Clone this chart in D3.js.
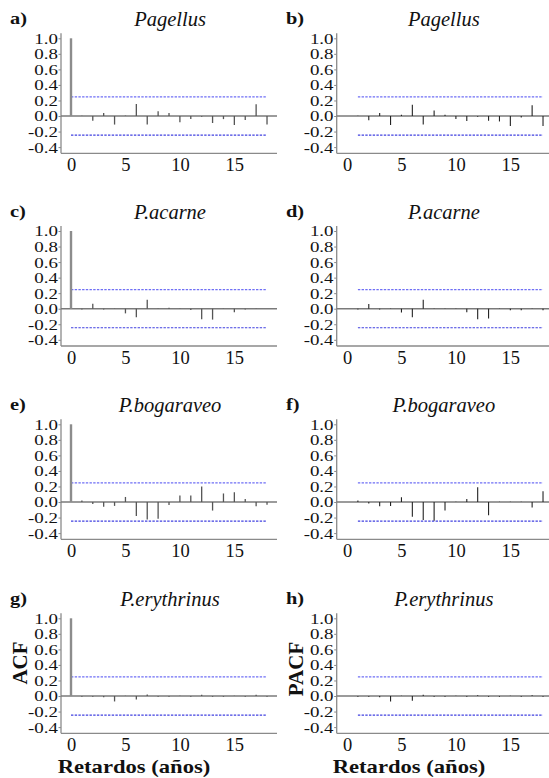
<!DOCTYPE html>
<html>
<head>
<meta charset="utf-8">
<script src="https://cdn.jsdelivr.net/npm/d3@7"></script>
<style>
  html, body { margin: 0; padding: 0; background: #fff; }
  svg { display: block; }
  svg text { font-family: "Liberation Serif", Tinos, "Times New Roman", "DejaVu Serif", serif; }
</style>
</head>
<body>
<svg id="chart" width="549" height="778"></svg>
<script>
// ---------- data ----------
const lagsAcf  = [0, 1, 2, 3, 4, 5, 6, 7, 8, 9, 10, 11, 12, 13, 14, 15, 16, 17, 18];
const lagsPacf = [1, 2, 3, 4, 5, 6, 7, 8, 9, 10, 11, 12, 13, 14, 15, 16, 17, 18];
const species = ["Pagellus", "P.acarne", "P.bogaraveo", "P.erythrinus"];
const panelLetters = ["a)", "b)", "c)", "d)", "e)", "f)", "g)", "h)"];
const yTickValues = [-0.4, -0.2, 0.0, 0.2, 0.4, 0.6, 0.8, 1.0];
const xTickValues = [0, 5, 10, 15];
const ciBound = 0.245;

const acfPagellus   = [1.0, 0.005, -0.06, 0.04, -0.11, 0.005, 0.155, -0.11, 0.06, 0.04, -0.08, -0.04, -0.01, -0.09, -0.04, -0.115, -0.05, 0.15, -0.11];
const pacfPagellus  = [0.005, -0.055, 0.04, -0.115, 0.015, 0.145, -0.11, 0.07, 0.015, -0.04, -0.065, -0.01, -0.06, -0.07, -0.13, -0.02, 0.14, -0.13];
const acfAcarne     = [1.0, -0.01, 0.065, -0.01, 0.003, -0.06, -0.11, 0.115, 0.003, 0.013, -0.005, -0.015, -0.135, -0.14, 0.003, -0.045, -0.01, 0.003, 0.0];
const pacfAcarne    = [-0.01, 0.06, -0.01, 0.003, -0.05, -0.11, 0.115, 0.003, 0.003, -0.005, -0.045, -0.135, -0.125, 0.003, -0.02, -0.02, 0.003, -0.02];
const acfBogaraveo  = [1.0, 0.02, -0.025, -0.06, -0.05, 0.065, -0.18, -0.225, -0.215, -0.04, 0.085, 0.085, 0.2, -0.11, 0.11, 0.125, 0.04, -0.055, -0.035];
const pacfBogaraveo = [0.02, -0.02, -0.055, -0.05, 0.06, -0.19, -0.23, -0.24, -0.11, 0.003, 0.04, 0.19, -0.17, 0.003, 0.003, 0.003, -0.07, 0.14];
const acfErythrinus = [1.0, -0.01, -0.01, -0.015, -0.07, 0.003, -0.045, 0.02, -0.01, -0.01, 0.003, -0.01, 0.015, -0.01, -0.01, 0.003, -0.01, 0.015, -0.01];
const pacfErythrinus= [-0.01, -0.01, -0.015, -0.07, 0.003, -0.06, 0.015, -0.01, -0.01, 0.003, -0.01, 0.01, -0.01, -0.01, 0.003, -0.01, 0.01, -0.01];

const acfSeries  = [acfPagellus, acfAcarne, acfBogaraveo, acfErythrinus];
const pacfSeries = [pacfPagellus, pacfAcarne, pacfBogaraveo, pacfErythrinus];

// ---------- layout ----------
const rowTop = [38.3, 231, 424.3, 618.3];     // pixel y of 1.0 in each row
const colAxisX = [61, 336.7];                  // y-axis line x
const colLag0X = [71, 347];                    // pixel x of lag 0
const colRightX = [277, 549];                  // right end of lines
const lagUnit = 10.89;
const yPix = 108.8;                            // span of -0.4..1.0

const serif = "Liberation Serif, Tinos, Times New Roman, DejaVu Serif, serif";
const svg = d3.select("#chart");

function drawPanel(row, col) {
  const isAcf = col === 0;
  const top = rowTop[row];
  const axX = colAxisX[col];
  const x = d3.scaleLinear().domain([0, 18]).range([colLag0X[col], colLag0X[col] + 18 * lagUnit]);
  const y = d3.scaleLinear().domain([-0.4, 1.0]).range([top + yPix, top]);
  const g = svg.append("g");
  const bottom = top + 115;

  // frame lines
  g.append("line").attr("x1", axX).attr("x2", axX).attr("y1", top - 5).attr("y2", bottom)
    .attr("stroke", "#8a8a8a").attr("stroke-width", 1.3);
  g.append("line").attr("x1", axX).attr("x2", colRightX[col]).attr("y1", bottom).attr("y2", bottom)
    .attr("stroke", "#8a8a8a").attr("stroke-width", 1.3);

  // y axis
  const ya = g.append("g").attr("transform", `translate(${axX},0)`)
    .call(d3.axisLeft(y).tickValues(yTickValues).tickSize(2.5).tickPadding(1)
      .tickFormat(d => d.toFixed(1)));
  ya.attr("font-family", null);
  ya.select(".domain").remove();
  ya.selectAll("line").attr("stroke", "#8a8a8a");
  ya.selectAll("text").style("font-family", serif).attr("font-size", 15.5).attr("fill", "#111")
    .attr("x", -2.6).attr("transform", "scale(1.22,1)");

  // x axis
  const xa = g.append("g").attr("transform", `translate(0,${bottom})`)
    .call(d3.axisBottom(x).tickValues(xTickValues).tickSize(0).tickPadding(5));
  xa.attr("font-family", null);
  xa.select(".domain").remove();
  xa.selectAll("text").style("font-family", serif).attr("font-size", 18.5).attr("fill", "#111");

  // zero line
  g.append("line").attr("x1", axX).attr("x2", colRightX[col]).attr("y1", y(0)).attr("y2", y(0))
    .attr("stroke", "#7a7a7a").attr("stroke-width", 1.4);

  // confidence bounds
  const ciStart = isAcf ? 0 : 1;
  g.append("line").attr("x1", x(ciStart)).attr("x2", x(18)).attr("y1", y(ciBound)).attr("y2", y(ciBound))
    .attr("stroke", "#6f6ff5").attr("stroke-width", 1.2).attr("stroke-dasharray", "2.4,1.3");
  g.append("line").attr("x1", x(ciStart)).attr("x2", x(18)).attr("y1", y(-ciBound)).attr("y2", y(-ciBound))
    .attr("stroke", "#4040e0").attr("stroke-width", 1.2).attr("stroke-dasharray", "2.4,1.3");

  // bars
  const vals = isAcf ? acfSeries[row] : pacfSeries[row];
  const lags = isAcf ? lagsAcf : lagsPacf;
  const data = lags.map((l, i) => ({ lag: l, v: vals[i] }));
  g.selectAll("line.bar").data(data).enter().append("line").attr("class", "bar")
    .attr("x1", d => x(d.lag)).attr("x2", d => x(d.lag))
    .attr("y1", y(0)).attr("y2", d => y(d.v))
    .attr("stroke", d => d.lag === 0 ? "#8c8c8c" : (isAcf ? "#555" : "#222"))
    .attr("stroke-width", d => d.lag === 0 ? 2.4 : (isAcf ? 1.3 : 1.1));

  // title
  g.append("text").attr("x", (axX + colRightX[col]) / 2 + 1).attr("y", top - 12)
    .attr("text-anchor", "middle").style("font-family", serif).attr("font-style", "italic")
    .attr("font-size", 20.5).attr("fill", "#111").text(species[row]);

  // panel letter
  g.append("text").attr("transform", `translate(${col === 0 ? 10 : 286},${top - 14}) scale(1.2,1)`)
    .style("font-family", serif).attr("font-weight", "bold").attr("font-size", 17).attr("fill", "#111")
    .text(panelLetters[row * 2 + col]);

  if (row === 3) {
    g.append("text")
      .attr("transform", `translate(${col === 0 ? 134 : 409},773) scale(1.16,1)`)
      .attr("text-anchor", "middle").style("font-family", serif).attr("font-weight", "bold")
      .attr("font-size", 19.5).attr("fill", "#111").text("Retardos (años)");
    g.append("text")
      .attr("transform", `translate(${col === 0 ? 27 : 303},${col === 0 ? 663 : 669}) rotate(-90)`)
      .attr("text-anchor", "middle").style("font-family", serif).attr("font-weight", "bold")
      .attr("font-size", 21).attr("fill", "#111").text(isAcf ? "ACF" : "PACF");
  }
}

for (let r = 0; r < 4; r++) {
  for (let c = 0; c < 2; c++) drawPanel(r, c);
}
</script>
</body>
</html>
